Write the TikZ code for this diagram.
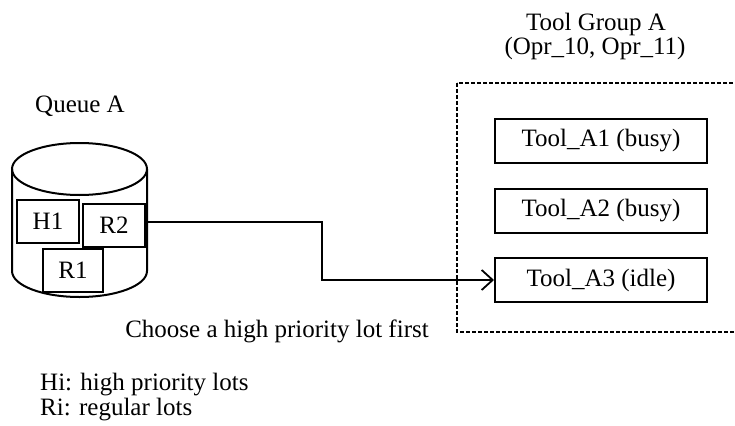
\documentclass[tikz,border=0pt]{standalone}
\usepackage{fontspec}
\setmainfont{Liberation Serif}
\usetikzlibrary{arrows.meta}
\begin{document}
\begin{tikzpicture}[x=1pt,y=-1pt,
  every node/.style={font=\fontsize{25}{30}\selectfont, inner sep=0pt},
  lot/.style={draw, line width=2pt, minimum width=62pt, minimum height=43pt},
  tool/.style={draw, line width=2pt, minimum width=212pt, minimum height=44pt},
  link/.style={line width=1.8pt, -{Straight Barb[length=11pt,width=20pt,line width=1.8pt]}}]
\useasboundingbox (0,0) rectangle (735,425);

% queue drawn as a cylinder
\draw[line width=2pt] (12,169) -- (12,271) arc[start angle=180, end angle=0, x radius=67.5, y radius=26]
  -- (147,169);
\draw[line width=2pt] (79.5,169) ellipse[x radius=67.5, y radius=26];
\node at (80,106) {Queue A};

% lots waiting in the queue
\node[lot] (h1) at (48,221.5) {H1};
\node[lot] (r2) at (114,225.5) {R2};
\node[lot, minimum width=60pt] (r1) at (73,270.5) {R1};

% tool group
\draw[line width=1.5pt, dash pattern=on 4pt off 2pt] (457,83) rectangle (745,332);
\node at (596,24) {Tool Group A};
\node at (595,48) {(Opr\_10, Opr\_11)};
\node[tool] (a1) at (601,140.5) {Tool\_A1 (busy)};
\node[tool] (a2) at (601,211) {Tool\_A2 (busy)};
\node[tool] (a3) at (601,280) {Tool\_A3 (idle)};

% dispatching path
\coordinate (bend) at (322,222);
\draw[link] (r2.east |- bend) -- (bend) |- (a3.west);
\node at (277,331) {Choose a high priority lot first};

% legend
\node[anchor=west] at (40,385) {Hi: high priority lots};
\node[anchor=west] at (40,410) {Ri: regular lots};
\end{tikzpicture}
\end{document}
